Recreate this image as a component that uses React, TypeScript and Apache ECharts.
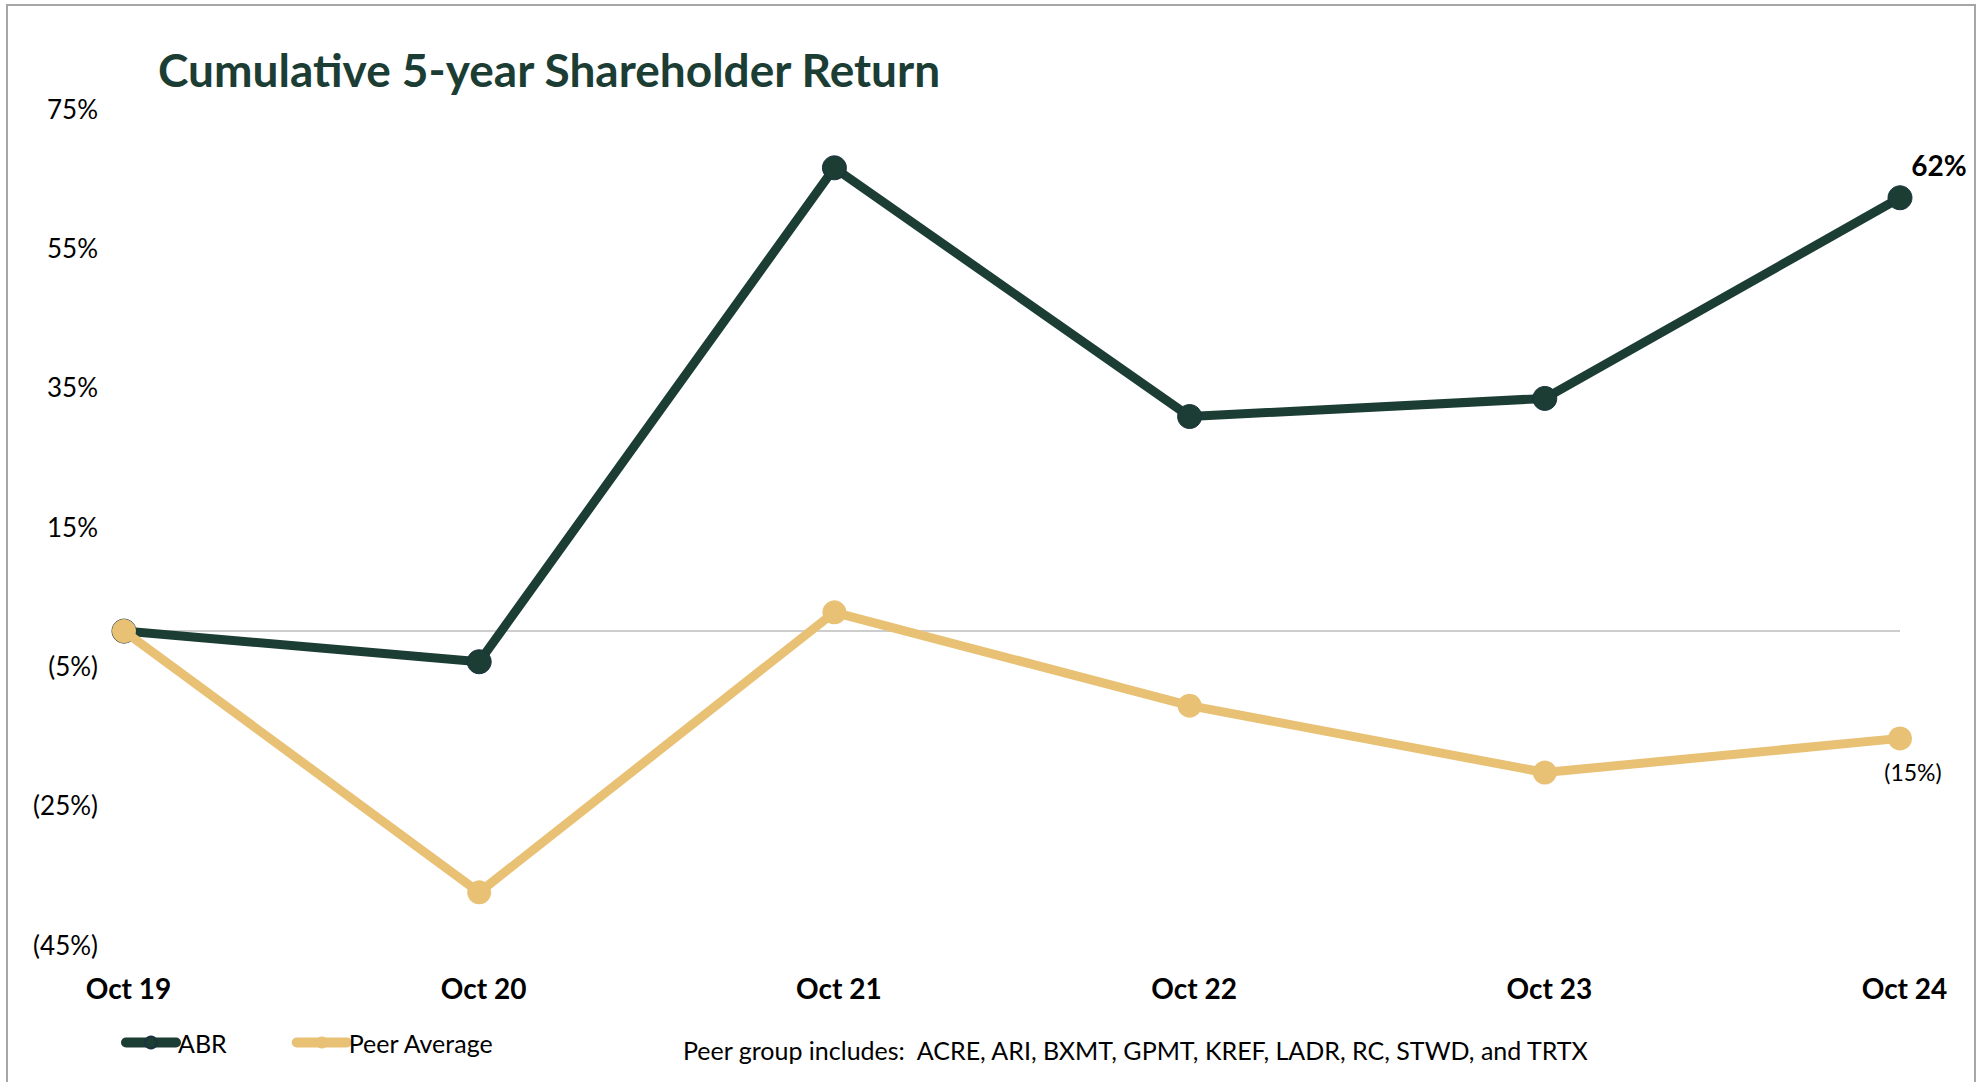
import React, { useEffect, useRef } from "react";
import * as echarts from "echarts";

const categories = ["Oct 19", "Oct 20", "Oct 21", "Oct 22", "Oct 23", "Oct 24"];
const abrValues = [0, -4.4, 66.5, 30.8, 33.4, 62.2];
const peerValues = [0, -37.5, 2.7, -10.7, -20.3, -15.4];
const yTickLabels = [-45, -25, -5, 15, 35, 55, 75];
const titleText = "Cumulative 5-year Shareholder Return";
const footnote = "Peer group includes:  ACRE, ARI, BXMT, GPMT, KREF, LADR, RC, STWD, and TRTX";

const GREEN = "#1c3d33";
const TAN = "#e8c175";
const FONT = "Lato, 'Noto Sans', sans-serif";

const fmtPct = (v: number) => (v < 0 ? `(${Math.abs(Math.round(v))}%)` : `${Math.round(v)}%`);

export default function App() {
  const ref = useRef<HTMLDivElement>(null);
  useEffect(() => {
    if (!ref.current) return;
    const chart = echarts.init(ref.current, null, { renderer: "svg" });
    const yMin = yTickLabels[0];
    const yMax = yTickLabels[yTickLabels.length - 1];
    const step = yTickLabels[1] - yTickLabels[0];
    const last = categories.length - 1;
    chart.setOption({
      animation: false,
      backgroundColor: "#ffffff",
      textStyle: { fontFamily: FONT },
      title: {
        text: titleText,
        left: 153,
        top: 41,
        textStyle: { fontFamily: FONT, fontSize: 46, fontWeight: "bold", color: GREEN },
      },
      grid: { left: 124, right: 80, top: 108.6, bottom: 137.4, containLabel: false },
      xAxis: {
        type: "category",
        data: categories,
        boundaryGap: false,
        axisLine: { show: false },
        axisTick: { show: false },
        splitLine: { show: false },
        axisLabel: {
          margin: 29,
          fontFamily: FONT,
          fontSize: 28,
          fontWeight: "bold",
          color: "#000",
          padding: [0, 0, 0, 9],
        },
      },
      yAxis: [
        {
          type: "value",
          min: yMin,
          max: yMax,
          show: false,
          splitLine: { show: false },
        },
        {
          type: "value",
          min: 0,
          max: yMax - yMin,
          interval: step,
          position: "left",
          axisLine: { show: false },
          axisTick: { show: false },
          splitLine: { show: false },
          axisLabel: {
            margin: 26,
            fontFamily: FONT,
            fontSize: 26,
            color: "#000",
            formatter: (v: number) => fmtPct(v + yMin),
          },
        },
      ],
      legend: {
        left: 116,
        top: 1025,
        itemWidth: 50,
        itemHeight: 15,
        itemGap: 65,
        lineStyle: { width: 10, cap: "round" },
        textStyle: { fontFamily: FONT, fontSize: 25, color: "#000", padding: [0, 0, 0, -3] },
        data: ["ABR", "Peer Average"],
      },
      series: [
        {
          name: "ABR",
          type: "line",
          yAxisIndex: 0,
          data: abrValues.map((v, i) =>
            i === last
              ? {
                  value: v,
                  label: {
                    show: true,
                    position: "top",
                    offset: [39, -1],
                    formatter: () => fmtPct(v),
                    fontFamily: FONT,
                    fontSize: 28,
                    fontWeight: "bold",
                    color: "#000",
                  },
                }
              : v
          ),
          symbol: "circle",
          symbolSize: 24,
          lineStyle: { color: GREEN, width: 9 },
          itemStyle: { color: GREEN, borderColor: "#1a3340", borderWidth: 1 },
          z: 2,
          markLine: {
            silent: true,
            symbol: "none",
            label: { show: false },
            lineStyle: { color: "#bdbdbd", width: 1.5, type: "solid" },
            data: [{ yAxis: 0 }],
            z: 1,
          },
        },
        {
          name: "Peer Average",
          type: "line",
          yAxisIndex: 0,
          data: peerValues.map((v, i) =>
            i === last
              ? {
                  value: v,
                  label: {
                    show: true,
                    position: "bottom",
                    offset: [13, 5],
                    formatter: () => fmtPct(v),
                    fontFamily: FONT,
                    fontSize: 23,
                    color: "#000",
                  },
                }
              : v
          ),
          symbol: "circle",
          symbolSize: 24,
          lineStyle: { color: TAN, width: 9 },
          itemStyle: { color: TAN },
          z: 3,
        },
      ],
      graphic: [
        {
          type: "rect",
          shape: { x: 7, y: 5, width: 1968, height: 1100 },
          style: { fill: "none", stroke: "#a6a6a6", lineWidth: 2 },
          silent: true,
        },
        {
          type: "text",
          left: 683,
          top: 1037,
          style: { text: footnote, fontFamily: FONT, fontSize: 25, fill: "#000" },
        },
      ],
    });
    return () => chart.dispose();
  }, []);
  return (
    <div
      ref={ref}
      style={{ position: "fixed", left: 0, top: 0, width: 1980, height: 1082, background: "#fff" }}
    />
  );
}
